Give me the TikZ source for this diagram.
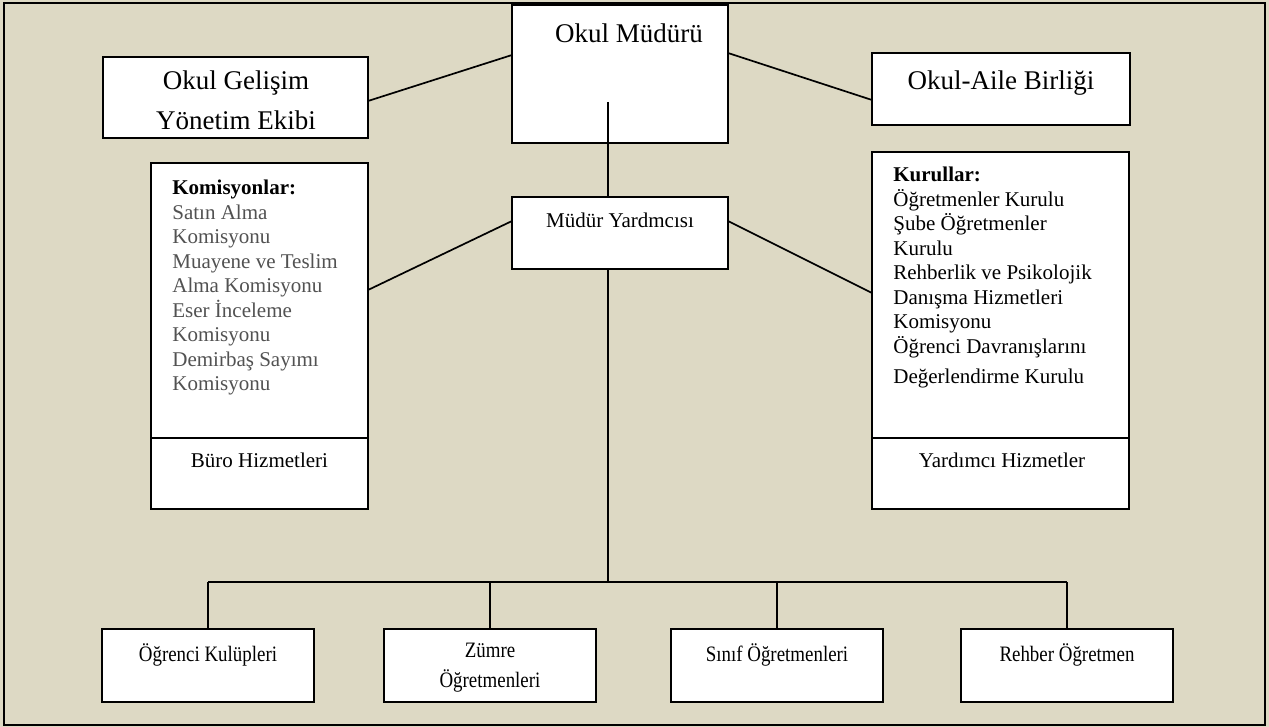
\documentclass[tikz,border=0pt]{standalone}
\usepackage{fontspec}
\setmainfont{Liberation Serif}
\newfontfamily\narrowfont[FakeStretch=0.86]{Liberation Serif}
\usetikzlibrary{calc,positioning,shadows}

\definecolor{bgtan}{RGB}{221,217,196}
\definecolor{listgray}{RGB}{82,82,82}

\tikzset{
  unit/.style={draw, fill=white, line width=1pt, inner sep=0pt, outer sep=0pt,
    drop shadow={shadow xshift=0.6pt, shadow yshift=-0.6pt, fill=black!45, opacity=0.8}},
  link/.style={line width=0.85pt},
  big/.style={font=\fontsize{13.5}{20}\selectfont, align=center, inner sep=0pt},
  small/.style={font=\fontsize{10.5}{12.25}\selectfont, inner sep=0pt},
  narrow/.style={font=\narrowfont\fontsize{11}{15}\selectfont, align=center, inner sep=0pt}
}

\begin{document}
\begin{tikzpicture}[x=0.5pt,y=-0.5pt]
                % Page and frame
                \useasboundingbox (0,0) rectangle (1269,727);
                \fill[bgtan] (0,0) rectangle (1269,727);
                \draw[line width=1.4pt] (4,3) rectangle (1265,725);

                % Top row
                \node[unit, minimum width=108pt, minimum height=69pt] (om) at (620,74) {};
                \node[unit, minimum width=132.5pt, minimum height=40.5pt] (ogye) at (235.5,97.5) {};
                \node[unit, minimum width=129pt, minimum height=36pt] (oab) at (1001,89) {};

                % Assistant and the two boards
                \node[unit, minimum width=108pt, minimum height=36pt] (my) at (620,233) {};
                \node[unit, minimum width=108.5pt, minimum height=137.5pt] (kom) at (259.5,300.5) {};
                \node[unit, minimum width=108.5pt, minimum height=35.5pt, below=0pt of kom] (buro) {};
                \node[unit, minimum width=128.5pt, minimum height=143pt] (kur) at (1000.5,295) {};
                \node[unit, minimum width=128.5pt, minimum height=35.5pt, below=0pt of kur] (yh) {};

                % Bottom row
                \node[unit, minimum width=106pt, minimum height=36.5pt] (b1) at (208,665.5) {};
                \node[unit, minimum width=106pt, minimum height=36.5pt] (b2) at (490,665.5) {};
                \node[unit, minimum width=106pt, minimum height=36.5pt] (b3) at (777,665.5) {};
                \node[unit, minimum width=106pt, minimum height=36.5pt] (b4) at (1067,665.5) {};

                % Connectors
                \draw[link] ($(om.north west)+(0,50)$) -- ($(ogye.north east)+(0,44)$);
                \draw[link] ($(om.north east)+(0,48)$) -- ($(oab.north west)+(0,47)$);
                \draw[link] ($(my.north west)+(0,24)$) -- ($(kom.north east)+(0,127)$);
                \draw[link] ($(my.north east)+(0,24)$) -- ($(kur.north west)+(0,141)$);
                \coordinate (trunktop) at (608,102);
                \coordinate (bus) at (608,582);
                \draw[link] (trunktop) -- (trunktop |- my.north);
                \draw[link] (trunktop |- my.south) -- (bus);
                \draw[link] (b1.north |- bus) -- (b4.north |- bus);
                \foreach \b in {b1,b2,b3,b4}
                  \draw[link] (\b.north |- bus) -- (\b.north);

                % Texts
                \node[big] (omt) at (629,33) {Okul Müdürü};
                \node[big] (ogyet) at (236,100) {Okul Gelişim\\Yönetim Ekibi};
                \node[big] (oabt) at (1001,83) {Okul-Aile Birliği};
                \node[small] (myt) at (620,220) {Müdür Yardmcısı};
                \node[small, align=left, anchor=north west, text=listgray] (komt) at (172,180)
                  {\textcolor{black}{\textbf{Komisyonlar:}}\\Satın Alma\\Komisyonu\\Muayene ve Teslim\\
                   Alma Komisyonu\\Eser İnceleme\\Komisyonu\\Demirbaş Sayımı\\Komisyonu};
                \node[small, align=left, anchor=north west] (kurt) at (893,167)
                  {\textbf{Kurullar:}\\Öğretmenler Kurulu\\Şube Öğretmenler\\Kurulu\\
                   Rehberlik ve Psikolojik\\Danışma Hizmetleri\\Komisyonu\\
                   Öğrenci Davranışlarını\\[2.75pt]Değerlendirme Kurulu};
                \node[small] (burot) at (259.5,460) {Büro Hizmetleri};
                \node[small] (yht) at (1002,460) {Yardımcı Hizmetler};
                \node[narrow] (b1t) at (208,655) {Öğrenci Kulüpleri};
                \node[narrow] (b2t) at (490,668) {Zümre\\Öğretmenleri};
                \node[narrow] (b3t) at (777,655) {Sınıf Öğretmenleri};
                \node[narrow] (b4t) at (1067,655) {Rehber Öğretmen};
            \end{tikzpicture}
\end{document}
